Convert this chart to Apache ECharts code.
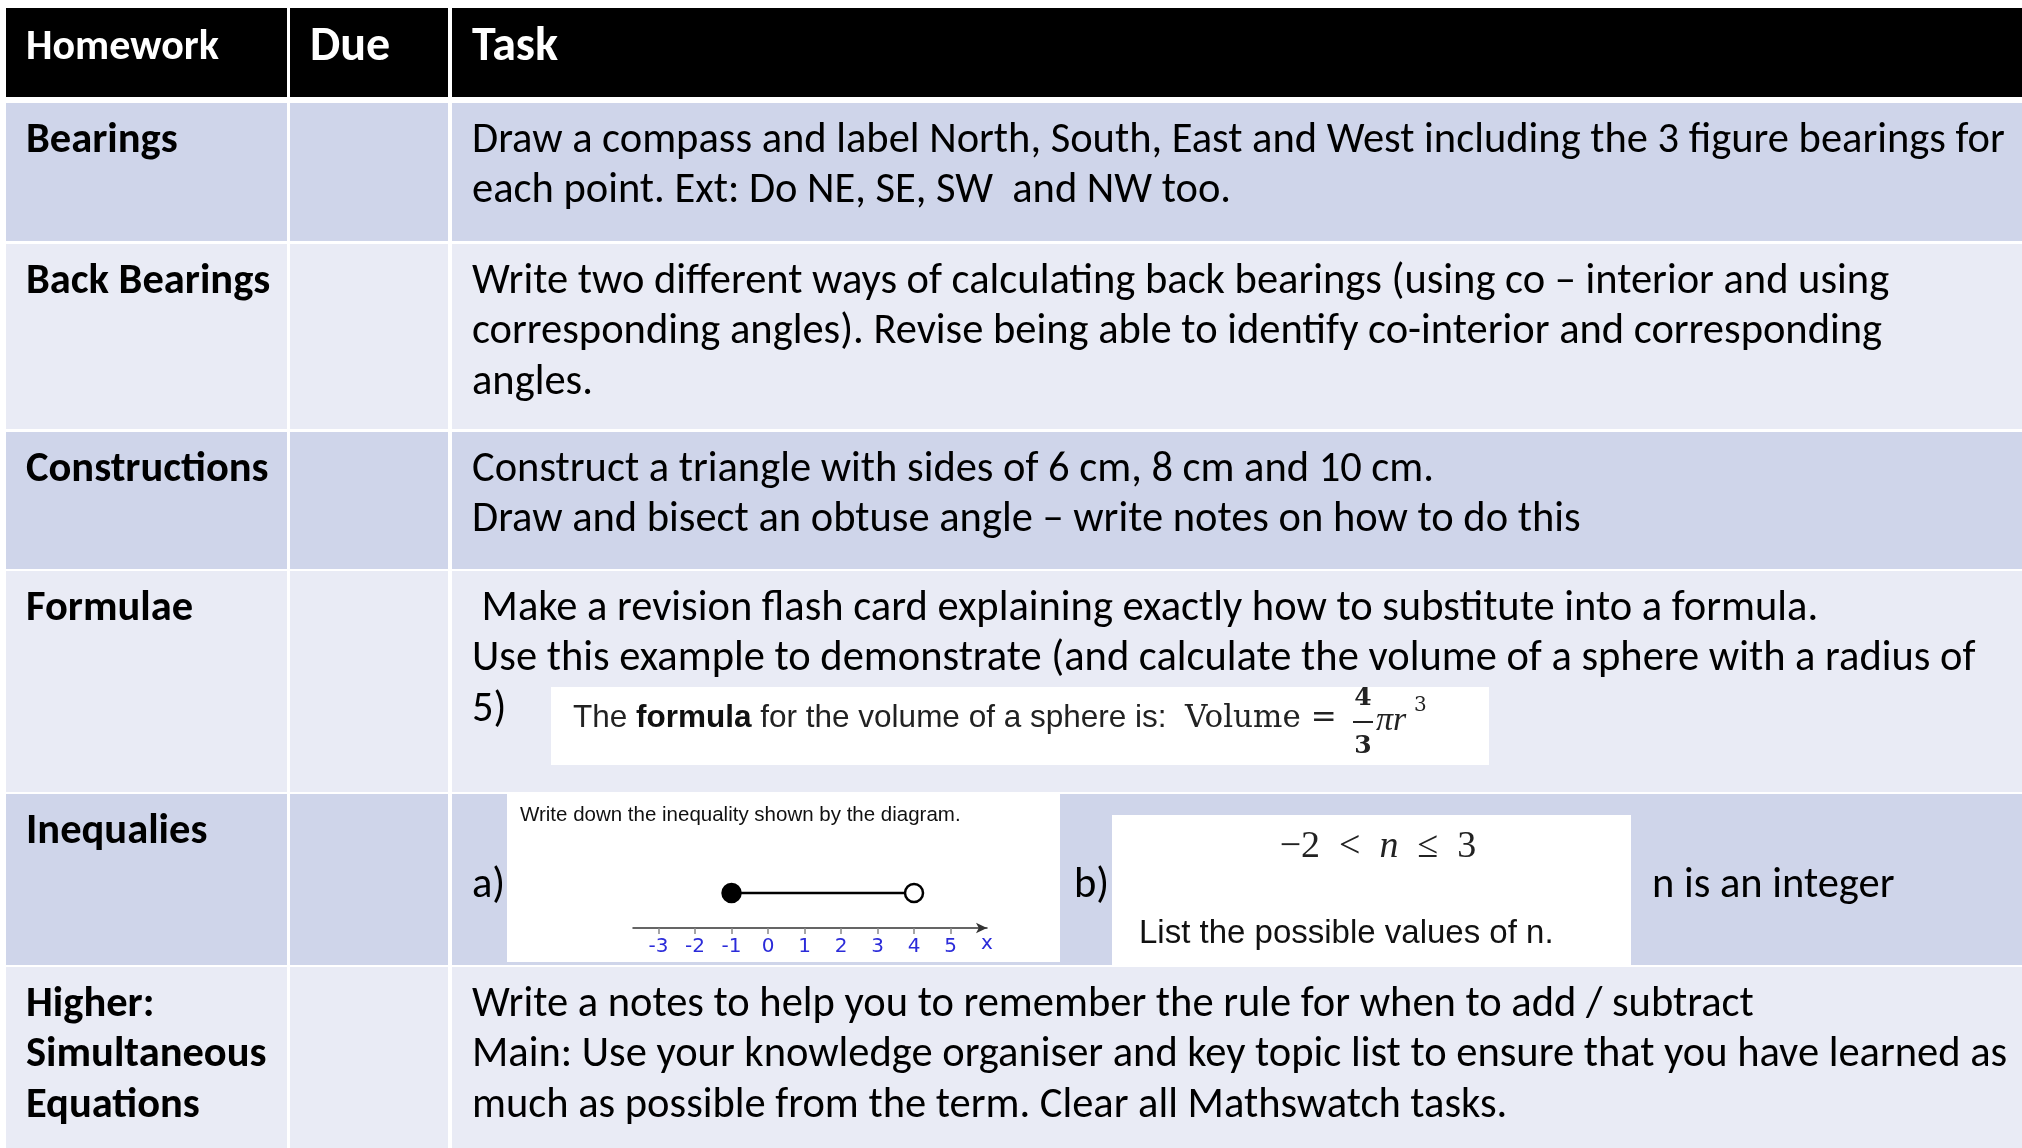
<!DOCTYPE html>
<html>
<head>
<meta charset="utf-8">
<script src="https://cdn.jsdelivr.net/npm/echarts@6/dist/echarts.min.js"></script>
<style>
  html, body { margin: 0; padding: 0; background: #fff; }
  #chart { width: 2022px; height: 1148px; }
</style>
</head>
<body>
<div id="chart"></div>
<script>
// table content
const headers = ["Homework", "Due", "Task"];
const topics = [
  ["Bearings"],
  ["Back Bearings"],
  ["Constructions"],
  ["Formulae"],
  ["Inequalies"],
  ["Higher:", "Simultaneous", "Equations"]
];
const dueDates = ["", "", "", "", "", ""];
const tasks = [
  ["Draw a compass and label North, South, East and West including the 3 figure bearings for",
   "each point. Ext: Do NE, SE, SW  and NW too."],
  ["Write two different ways of calculating back bearings (using co \u2013 interior and using",
   "corresponding angles). Revise being able to identify co-interior and corresponding",
   "angles."],
  ["Construct a triangle with sides of 6 cm, 8 cm and 10 cm.",
   "Draw and bisect an obtuse angle \u2013 write notes on how to do this"],
  [" Make a revision flash card explaining exactly how to substitute into a formula.",
   "Use this example to demonstrate (and calculate the volume of a sphere with a radius of",
   "5)"],
  [],
  ["Write a notes to help you to remember the rule for when to add / subtract",
   "Main: Use your knowledge organiser and key topic list to ensure that you have learned as",
   "much as possible from the term. Clear all Mathswatch tasks."]
];
// number line in the inequality question
const numberLineTicks = [-3, -2, -1, 0, 1, 2, 3, 4, 5];
const intervalEnds = [-1, 4];

// layout (pixel units of the hidden axes)
const colSpans = [[6, 287], [290, 448], [452, 2022]];
const rowSpans = [[8, 97], [103, 241], [244, 429], [432, 569], [571, 792], [794, 965], [967, 1148]];
const rowFills = ["#000000", "#CFD5EA", "#E9EBF5", "#CFD5EA", "#E9EBF5", "#CFD5EA", "#E9EBF5"];
const bodyFont = "Carlito, Lato, sans-serif";
const bodySize = 42.5;
const lineGap = 50.8;

const cells = [];
for (let r = 0; r < rowSpans.length; r++) {
  for (let c = 0; c < colSpans.length; c++) cells.push([c, r]);
}

function txt(x, y, text, font, fill, extra) {
  return { type: "text", style: Object.assign({ x, y, text, font, fill: fill || "#000", verticalAlign: "middle" }, extra || {}) };
}

function box(api, a, b) {
  const p0 = api.coord(a), p1 = api.coord(b);
  return { type: "rect", shape: { x: p0[0], y: p0[1], width: p1[0] - p0[0], height: p1[1] - p0[1] }, style: { fill: "#fff" } };
}

function renderCell(params, api) {
  const c = api.value(0), r = api.value(1);
  const p0 = api.coord([colSpans[c][0], rowSpans[r][0]]);
  const p1 = api.coord([colSpans[c][1], rowSpans[r][1]]);
  const children = [{
    type: "rect",
    shape: { x: p0[0], y: p0[1], width: p1[0] - p0[0], height: p1[1] - p0[1] },
    style: { fill: rowFills[r] }
  }];
  const tx = p0[0] + 20;
  if (r === 0) {
    const size = c === 0 ? 42 : 48;
    children.push(txt(tx, p0[1] + 40, headers[c], "bold " + size + "px " + bodyFont, "#fff"));
    return { type: "group", children };
  }
  let lines = c === 0 ? topics[r - 1] : c === 1 ? [dueDates[r - 1]] : tasks[r - 1];
  lines.forEach((s, i) => {
    children.push(txt(tx, p0[1] + 38 + i * lineGap, s, (c === 0 ? "bold " : "") + bodySize + "px " + bodyFont));
  });

  const sans = "'Liberation Sans', Arial, sans-serif";
  const serif = "'DejaVu Serif', 'Liberation Serif', serif";
  const times = "'Liberation Serif', 'DejaVu Serif', serif";

  if (c === 2 && r === 4) {
    // formula image
    children.push(box(api, [551, 687], [1489, 765]));
    const my = api.coord([0, 718])[1];
    children.push({
      type: "text",
      style: {
        x: api.coord([573, 0])[0], y: my, verticalAlign: "middle",
        text: "The {b|formula} for the volume of a sphere is:",
        font: "31.5px " + sans, fill: "#222",
        rich: { b: { fontWeight: "bold", fontSize: 31.5, fontFamily: sans, fill: "#111" } }
      }
    });
    children.push(txt(api.coord([1185, 0])[0], my + 1, "Volume =", "31px " + serif, "#222"));
    const fx = api.coord([1363, 0])[0];
    children.push(txt(fx, api.coord([0, 698])[1], "4", "bold 25px " + serif, "#222", { align: "center" }));
    children.push(txt(fx, api.coord([0, 746])[1], "3", "bold 25px " + serif, "#222", { align: "center" }));
    children.push({ type: "line", shape: { x1: fx - 10, y1: my + 4, x2: fx + 10, y2: my + 4 }, style: { stroke: "#222", lineWidth: 2 } });
    children.push(txt(api.coord([1376, 0])[0], my + 3, "\u03c0r", "italic 34px " + times, "#222"));
    children.push(txt(api.coord([1414, 0])[0], api.coord([0, 706])[1], "3", "20px " + serif, "#222"));
  }

  if (c === 2 && r === 5) {
    const ly = p0[1] + 92;
    children.push(txt(tx, ly, "a)", bodySize + "px " + bodyFont));
    children.push(box(api, [507, 794], [1060, 962]));
    children.push(txt(api.coord([520, 0])[0], api.coord([0, 815])[1], "Write down the inequality shown by the diagram.", "20.5px " + sans, "#111"));
    children.push(txt(api.coord([1074, 0])[0], ly, "b)", bodySize + "px " + bodyFont));
    children.push(box(api, [1112, 815], [1631, 965]));
    children.push({
      type: "text",
      style: {
        x: api.coord([1378, 0])[0], y: api.coord([0, 847])[1], align: "center", verticalAlign: "middle",
        text: "\u22122  <  {i|n}  \u2264  3", font: "38px " + times, fill: "#222",
        rich: { i: { fontStyle: "italic", fontSize: 38, fontFamily: times, fill: "#222" } }
      }
    });
    children.push(txt(api.coord([1139, 0])[0], api.coord([0, 934])[1], "List the possible values of n.", "33px " + sans, "#111"));
    children.push(txt(api.coord([1652, 0])[0], ly, "n is an integer", bodySize + "px " + bodyFont));
  }
  return { type: "group", children };
}

const chart = echarts.init(document.getElementById("chart"));
chart.setOption({
  backgroundColor: "#fff",
  animation: false,
  grid: [
    { left: 0, top: 0, right: 0, bottom: 0 },
    { left: 633, top: 858, width: 354, height: 70 }
  ],
  xAxis: [
    { gridIndex: 0, type: "value", min: 0, max: 2022, show: false },
    {
      gridIndex: 1, type: "value", min: -3.7, max: 6, z: 10,
      splitLine: { show: false },
      axisLine: { show: true, onZero: false, symbol: ["none", "arrow"], symbolSize: [8, 11], lineStyle: { color: "#333", width: 1.5 } },
      axisTick: { show: true, customValues: numberLineTicks, length: 6, lineStyle: { color: "#888", width: 1.5 } },
      axisLabel: { customValues: numberLineTicks, color: "#2b2bd9", fontSize: 20, margin: 9, fontFamily: "'DejaVu Sans', sans-serif" },
      name: "x", nameLocation: "end", nameGap: -6,
      nameTextStyle: { color: "#2b2bd9", fontSize: 20, verticalAlign: "top", padding: [6, 0, 0, 0], fontFamily: "'DejaVu Sans', sans-serif" }
    }
  ],
  yAxis: [
    { gridIndex: 0, type: "value", min: 0, max: 1148, inverse: true, show: false },
    { gridIndex: 1, type: "value", min: 0, max: 2, show: false }
  ],
  series: [
    {
      type: "custom",
      xAxisIndex: 0, yAxisIndex: 0,
      renderItem: renderCell,
      data: cells,
      silent: true,
      z: 1
    },
    {
      type: "line",
      xAxisIndex: 1, yAxisIndex: 1,
      symbol: "circle", symbolSize: 18,
      lineStyle: { color: "#000", width: 2.5 },
      data: [
        { value: [intervalEnds[0], 1], itemStyle: { color: "#000", borderColor: "#000", borderWidth: 2.5 } },
        { value: [intervalEnds[1], 1], itemStyle: { color: "#fff", borderColor: "#000", borderWidth: 2.5 } }
      ],
      z: 5
    }
  ]
});
</script>
</body>
</html>
